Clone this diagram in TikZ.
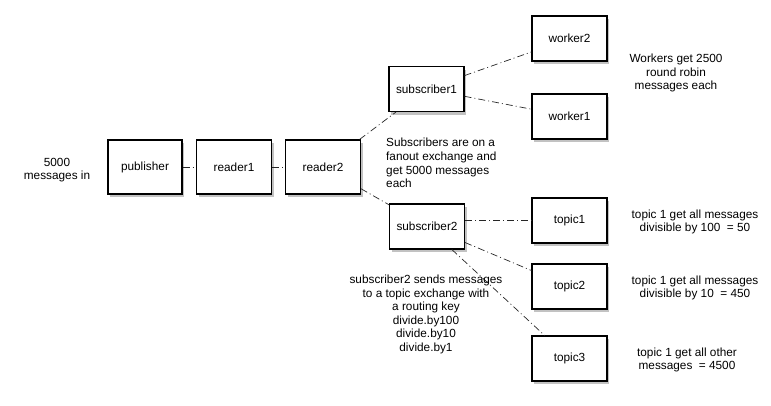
\documentclass[tikz,border=0pt]{standalone}
\usepackage{fontspec}
\setmainfont{Liberation Sans}
\usetikzlibrary{shadows}
\begin{document}
\begin{tikzpicture}[x=1pt,y=-1pt,
  box/.style={draw, line width=1.1pt, fill=white, minimum width=75pt, minimum height=45pt,
    inner sep=0pt, font=\fontsize{11.8}{13.6}\selectfont,
    drop shadow={shadow xshift=2pt, shadow yshift=-3pt, opacity=0.4, fill=black!60}},
  lbl/.style={align=center, inner sep=0pt, font=\fontsize{11.8}{13.6}\selectfont},
  link/.style={line width=0.7pt, black!85, dash pattern=on 7pt off 3pt on 1pt off 3pt}]
\useasboundingbox (0,0) rectangle (771,405);
\node[box, minimum width=74pt, minimum height=54pt] (pub) at (145,167) {publisher};
\node[box, minimum height=54pt] (r1) at (234,167) {reader1};
\node[box, minimum height=54pt] (r2) at (323,167) {reader2};
\node[box] (s1) at (426.5,89) {subscriber1};
\node[box] (w2) at (569.5,38.5) {worker2};
\node[box] (w1) at (569.5,116.5) {worker1};
\node[box] (s2) at (427,226.5) {subscriber2};
\node[box] (t1) at (569.5,220.5) {topic1};
\node[box] (t2) at (569.5,286.5) {topic2};
\node[box] (t3) at (569.5,358.5) {topic3};
\draw[link] (pub) -- (r1);
\draw[link] (r1) -- (r2);
\draw[link] (r2) -- (s1);
\draw[link] (r2) -- (s2);
\draw[link] (s1) -- (w2);
\draw[link] (s1) -- (w1);
\draw[link] (s2.east |- t1) -- (t1);
\draw[link] (s2) -- (t2);
\draw[link] (s2) -- (t3);
\node[lbl] (in) at (57,170) {5000\\messages in};
\node[lbl] (wt) at (676,73) {Workers get 2500\\round robin\\messages each};
\node[lbl, align=left, anchor=west] (st) at (386,163) {Subscribers are on a\\fanout exchange and\\get 5000 messages\\each};
\node[lbl] (s2t) at (426,314.5) {subscriber2 sends messages\\to a topic exchange with\\a routing key\\divide.by100\\divide.by10\\divide.by1};
\node[lbl] (t1t) at (695,222) {topic 1 get all messages\\divisible by 100\ \ = 50};
\node[lbl] (t2t) at (695,288) {topic 1 get all messages\\divisible by 10\ \ = 450};
\node[lbl] (t3t) at (687,360) {topic 1 get all other\\messages\ \ = 4500};
\end{tikzpicture}
\end{document}
